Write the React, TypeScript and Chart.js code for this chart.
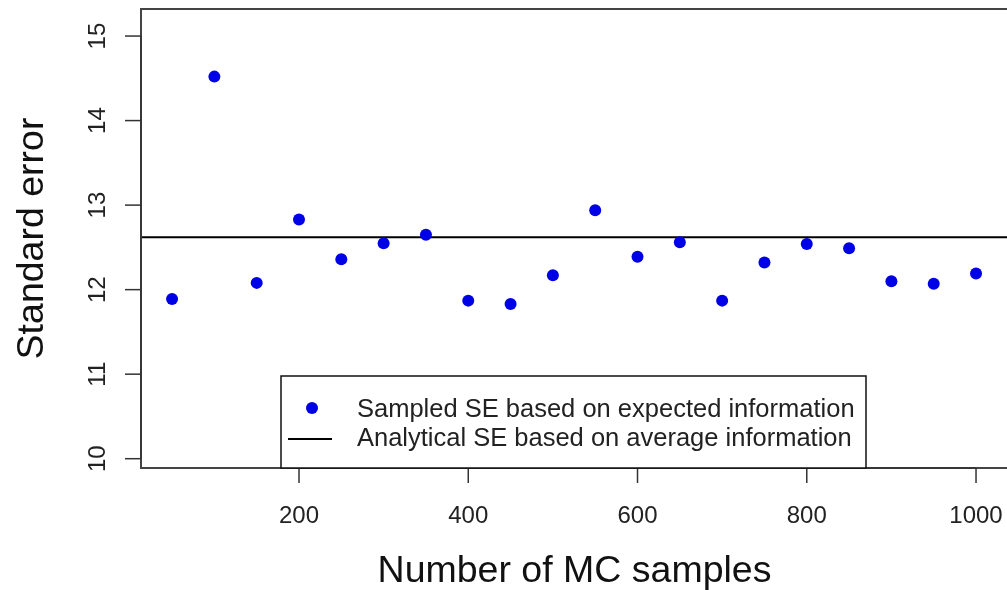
import React, { useEffect, useRef } from "react";
import { Chart, registerables } from "chart.js";

Chart.register(...registerables);

// ---- data ----
const sampleSizes = [50, 100, 150, 200, 250, 300, 350, 400, 450, 500, 550, 600, 650, 700, 750, 800, 850, 900, 950, 1000];
const sampledSE = [11.89, 14.52, 12.08, 12.83, 12.36, 12.55, 12.65, 11.87, 11.83, 12.17, 12.94, 12.39, 12.56, 11.87, 12.32, 12.54, 12.49, 12.10, 12.07, 12.19];
const analyticalSE = 12.62;
const xTicks = [200, 400, 600, 800, 1000];
const yTicks = [10, 11, 12, 13, 14, 15];
const xRange = [13.3, 1036.6];
const yRange = [9.89, 15.32];
const xTitle = "Number of MC samples";
const yTitle = "Standard error";
const legendLabels = ["Sampled SE based on expected information", "Analytical SE based on average information"];

const FONT = '"Liberation Sans", Arial, sans-serif';
const POINT_COLOR = "rgb(0,0,230)";

const axesPlugin = {
  id: "rAxes",
  afterDraw(chart: any) {
    const ctx = chart.ctx as CanvasRenderingContext2D;
    const area = chart.chartArea;
    const xs = chart.scales.x;
    const ys = chart.scales.y;
    ctx.save();
    // frame
    ctx.strokeStyle = "#444";
    ctx.lineWidth = 2;
    ctx.beginPath();
    ctx.rect(area.left, area.top, area.right + 4 - area.left, area.bottom - area.top);
    ctx.stroke();

    // x ticks
    ctx.fillStyle = "#222";
    ctx.strokeStyle = "#333";
    ctx.lineWidth = 1.5;
    ctx.font = `24px ${FONT}`;
    ctx.textAlign = "center";
    ctx.textBaseline = "alphabetic";
    const x0 = xs.getPixelForValue(xTicks[0]);
    const x1 = xs.getPixelForValue(xTicks[xTicks.length - 1]);
    ctx.beginPath();
    ctx.moveTo(x0, area.bottom);
    ctx.lineTo(x1, area.bottom);
    ctx.stroke();
    for (const t of xTicks) {
      const px = xs.getPixelForValue(t);
      ctx.beginPath();
      ctx.moveTo(px, area.bottom);
      ctx.lineTo(px, area.bottom + 15);
      ctx.stroke();
      ctx.fillText(String(t), px, area.bottom + 55);
    }

    // y ticks
    const y0 = ys.getPixelForValue(yTicks[0]);
    const y1 = ys.getPixelForValue(yTicks[yTicks.length - 1]);
    ctx.beginPath();
    ctx.moveTo(area.left, y0);
    ctx.lineTo(area.left, y1);
    ctx.stroke();
    for (const t of yTicks) {
      const py = ys.getPixelForValue(t);
      ctx.beginPath();
      ctx.moveTo(area.left, py);
      ctx.lineTo(area.left - 16, py);
      ctx.stroke();
      ctx.save();
      ctx.translate(area.left - 36, py);
      ctx.rotate(-Math.PI / 2);
      ctx.fillText(String(t), 0, 0);
      ctx.restore();
    }

    // titles
    ctx.fillStyle = "#111";
    ctx.font = `37.5px ${FONT}`;
    ctx.fillText(xTitle, (area.left + 1008) / 2, 582);
    ctx.save();
    ctx.translate(43, (area.top + area.bottom) / 2);
    ctx.rotate(-Math.PI / 2);
    ctx.fillText(yTitle, 0, 0);
    ctx.restore();

    // legend
    ctx.fillStyle = "#fff";
    ctx.fillRect(281, 376, 866 - 281, area.bottom - 376);
    ctx.strokeStyle = "#111";
    ctx.lineWidth = 1.5;
    ctx.strokeRect(281, 376, 866 - 281, area.bottom - 376);
    ctx.fillStyle = POINT_COLOR;
    ctx.beginPath();
    ctx.arc(312, 408, 6, 0, Math.PI * 2);
    ctx.fill();
    ctx.strokeStyle = "#000";
    ctx.lineWidth = 2;
    ctx.beginPath();
    ctx.moveTo(288, 439);
    ctx.lineTo(332, 439);
    ctx.stroke();
    ctx.fillStyle = "#222";
    ctx.font = `25.5px ${FONT}`;
    ctx.textAlign = "left";
    ctx.fillText(legendLabels[0], 357, 417);
    ctx.fillText(legendLabels[1], 357, 446);
    ctx.restore();
  },
};

export default function App() {
  const ref = useRef<HTMLCanvasElement | null>(null);
  useEffect(() => {
    if (!ref.current) return;
    const chart = new Chart(ref.current, {
      type: "scatter",
      data: {
        datasets: [
          {
            label: legendLabels[0],
            data: sampleSizes.map((x, i) => ({ x, y: sampledSE[i] })),
            pointRadius: 6,
            pointBackgroundColor: POINT_COLOR,
            pointBorderWidth: 0,
            backgroundColor: POINT_COLOR,
            borderWidth: 0,
          },
          {
            type: "line",
            label: legendLabels[1],
            data: [
              { x: xRange[0], y: analyticalSE },
              { x: xRange[1], y: analyticalSE },
            ],
            showLine: true,
            pointRadius: 0,
            borderColor: "#000",
            borderWidth: 2,
          } as any,
        ],
      },
      options: {
        animation: false,
        responsive: false,
        maintainAspectRatio: false,
        events: [],
        layout: { autoPadding: false, padding: { left: 141, top: 9, right: 0, bottom: 122 } },
        scales: {
          x: { type: "linear", min: xRange[0], max: xRange[1], display: false },
          y: { type: "linear", min: yRange[0], max: yRange[1], display: false },
        },
        plugins: { legend: { display: false }, tooltip: { enabled: false } },
      },
      plugins: [axesPlugin],
    });
    return () => chart.destroy();
  }, []);
  return (
    <div style={{ position: "absolute", left: 0, top: 0, width: 1007, height: 590, background: "#fff" }}>
      <canvas ref={ref} width={1007} height={590} />
    </div>
  );
}
